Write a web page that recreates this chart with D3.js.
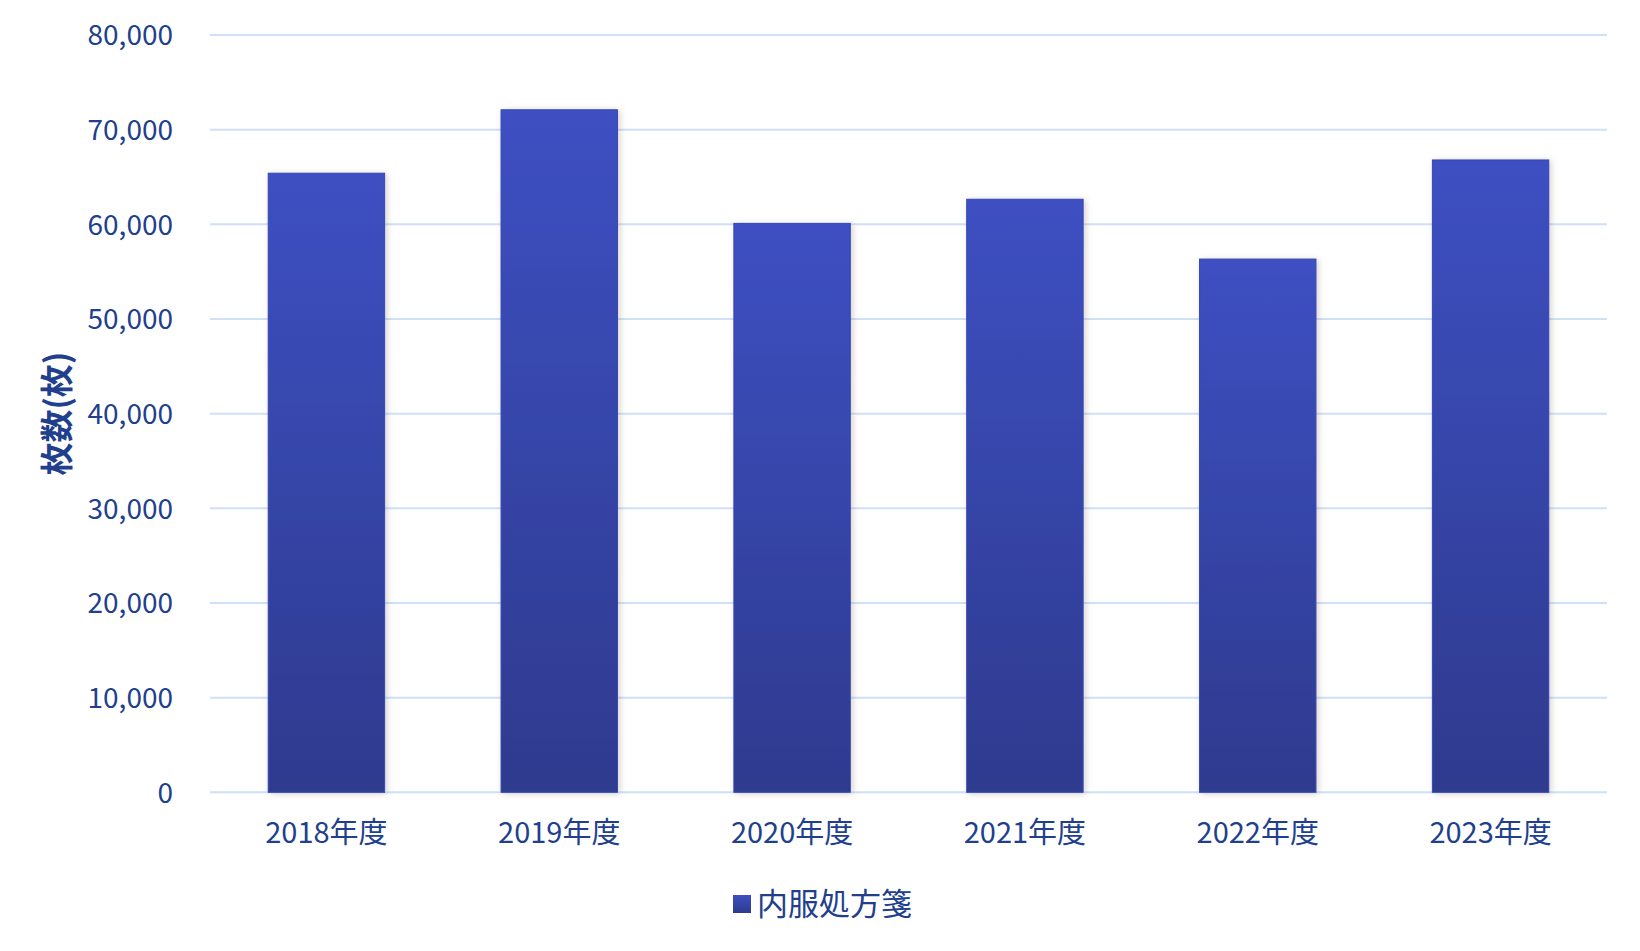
<!DOCTYPE html>
<html><head><meta charset="utf-8">
<script src="https://cdn.jsdelivr.net/npm/d3@7"></script>
<style>
html,body{margin:0;padding:0;background:#fff;}
svg text{font-family:"Noto Sans CJK JP","Noto Sans",sans-serif;fill:#213f8c;}
</style></head>
<body>
<svg id="chart" width="1640" height="951"></svg>
<script>
const categories = ["2018年度","2019年度","2020年度","2021年度","2022年度","2023年度"];
const values = [65400, 72100, 60100, 62650, 56330, 66800];
const yTicks = [0,10000,20000,30000,40000,50000,60000,70000,80000];
const seriesName = "内服処方箋";
const yTitle = "枚数(枚)";

const svg = d3.select("#chart");
const m = {left:210, right:33, top:35, bottom:159};
const W = 1640, H = 951;
const x = d3.scaleBand().domain(categories).range([m.left, W - m.right]).paddingInner(0.5).paddingOuter(0.25);
const y = d3.scaleLinear().domain([0,80000]).range([H - m.bottom + 0.3, m.top]);

const defs = svg.append("defs");
const grad = defs.append("linearGradient").attr("id","barGrad").attr("x1",0).attr("y1",0).attr("x2",0).attr("y2",1);
grad.append("stop").attr("offset","0%").attr("stop-color","#3d50c2");
grad.append("stop").attr("offset","100%").attr("stop-color","#2e3a8e");
const f = defs.append("filter").attr("id","shadow").attr("x","-20%").attr("y","-5%").attr("width","140%").attr("height","110%");
f.append("feDropShadow").attr("dx",2).attr("dy",1).attr("stdDeviation",3).attr("flood-color","#7a6a50").attr("flood-opacity",0.3);

// y axis labels
const yAxis = d3.axisLeft(y).tickValues(yTicks).tickSize(0).tickPadding(0)
  .tickFormat(d3.format(","));
const gy = svg.append("g").attr("transform",`translate(${m.left},0)`).call(yAxis);
gy.select(".domain").remove();
gy.selectAll("text").attr("x",-37).attr("dy","0.35em").style("font-size","28px").style("fill","#213f8c");
// gridlines
svg.append("g").selectAll("line").data(yTicks).join("line")
  .attr("x1",m.left).attr("x2",W - m.right)
  .attr("y1",d=>y(d)).attr("y2",d=>y(d))
  .attr("stroke","#cfe0f8").attr("stroke-width",2);

// bars
svg.append("g").selectAll("rect").data(values).join("rect")
  .attr("x",(d,i)=>x(categories[i]))
  .attr("width",x.bandwidth())
  .attr("y",d=>y(d))
  .attr("height",d=>y(0)-y(d))
  .attr("fill","url(#barGrad)")
  .attr("stroke","#3447b8").attr("stroke-width",1)
  .attr("filter","url(#shadow)");

// x axis
const xAxis = d3.axisBottom(x).tickSize(0).tickPadding(0);
const gx = svg.append("g").attr("transform",`translate(0,${y(0)})`).call(xAxis);
gx.select(".domain").remove();
gx.selectAll("text").attr("y",41).attr("dy","0.35em").style("font-size","29px").style("fill","#213f8c");

// y title
svg.append("text").attr("transform",`translate(57,${(y(0)+y(80000))/2}) rotate(-90)`)
  .attr("text-anchor","middle").attr("dy","0.35em")
  .style("font-size","33px").style("font-weight","bold").text(yTitle);

// legend
const lg = svg.append("g");
lg.append("text").attr("x",757).attr("y",904).attr("dy","0.35em").style("font-size","31px").text(seriesName);
lg.append("rect").attr("x",733).attr("y",895).attr("width",18).attr("height",18).attr("fill","url(#barGrad)");
</script>
</body></html>
